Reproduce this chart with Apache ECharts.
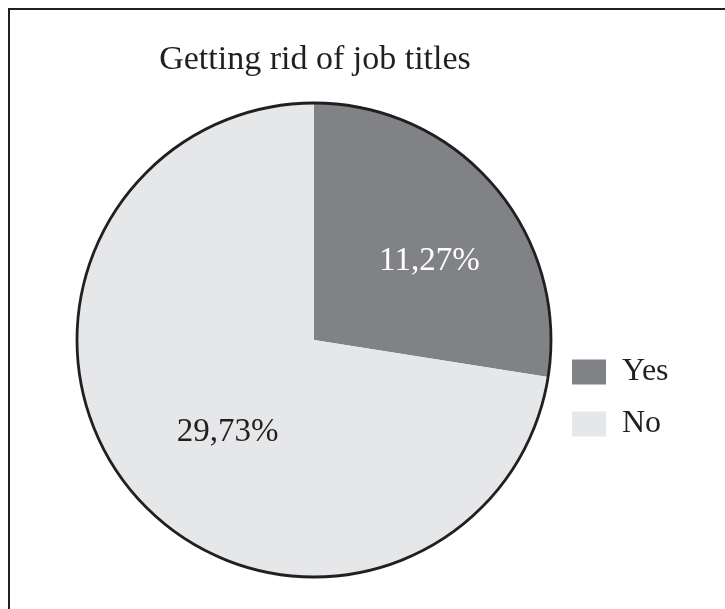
<!DOCTYPE html>
<html>
<head>
<meta charset="utf-8">
<style>
  html, body { margin: 0; padding: 0; background: #ffffff; }
  #chart { width: 725px; height: 609px; }
</style>
<script src="https://cdn.jsdelivr.net/npm/echarts@6/dist/echarts.min.js"></script>
</head>
<body>
<div id="chart"></div>
<script>
// Survey answers, in percent
const categories = ['Yes', 'No'];
const shares = [11.27, 29.73];
const sliceColors = ['#808285', '#e6e7e8'];
const labelColors = ['#ffffff', '#231f20'];
const titleText = 'Getting rid of job titles';

const serif = "'Liberation Serif', 'Times New Roman', serif";
const ink = '#231f20';
const center = [314, 340];
const radius = 237;

// nudge the in-slice labels a little off the default mid-radius spot
const labelNudge = [[23, 0], [6, 13]];

const chart = echarts.init(document.getElementById('chart'), null, { renderer: 'canvas' });

chart.setOption({
  animation: false,
  backgroundColor: '#ffffff',
  title: {
    text: titleText,
    left: 310,
    textAlign: 'center',
    top: 38,
    textStyle: { fontFamily: serif, fontSize: 34, fontWeight: 'normal', color: ink }
  },
  legend: {
    data: categories,
    orient: 'vertical',
    left: 567,
    top: 351,
    itemWidth: 34,
    itemHeight: 25,
    itemGap: 20,
    icon: 'rect',
    textStyle: { fontFamily: serif, fontSize: 32, lineHeight: 32, color: ink, padding: [0, 0, 0, 11] }
  },
  graphic: [{
    type: 'rect',
    shape: { x: 9, y: 9, width: 800, height: 700 },
    style: { fill: 'none', stroke: ink, lineWidth: 2 },
    silent: true,
    z: 10
  }],
  series: [{
    type: 'pie',
    center: center,
    radius: radius,
    startAngle: 90,
    clockwise: true,
    avoidLabelOverlap: false,
    emphasis: { disabled: true },
    itemStyle: { borderWidth: 0 },
    label: {
      show: true,
      position: 'inside',
      fontFamily: serif,
      fontSize: 33,
      formatter: p => p.value.toFixed(2).replace('.', ',') + '%'
    },
    labelLine: { show: false },
    labelLayout: p => ({ dx: labelNudge[p.dataIndex][0], dy: labelNudge[p.dataIndex][1] }),
    data: categories.map((name, i) => ({
      name: name,
      value: shares[i],
      itemStyle: { color: sliceColors[i] },
      label: { color: labelColors[i] }
    }))
  }, {
    // outer rim of the pie
    type: 'pie',
    center: center,
    radius: radius,
    silent: true,
    emphasis: { disabled: true },
    label: { show: false },
    labelLine: { show: false },
    itemStyle: { color: 'none', borderColor: ink, borderWidth: 2.8 },
    data: [{ name: 'rim', value: 1 }],
    z: 3
  }]
});
</script>
</body>
</html>
